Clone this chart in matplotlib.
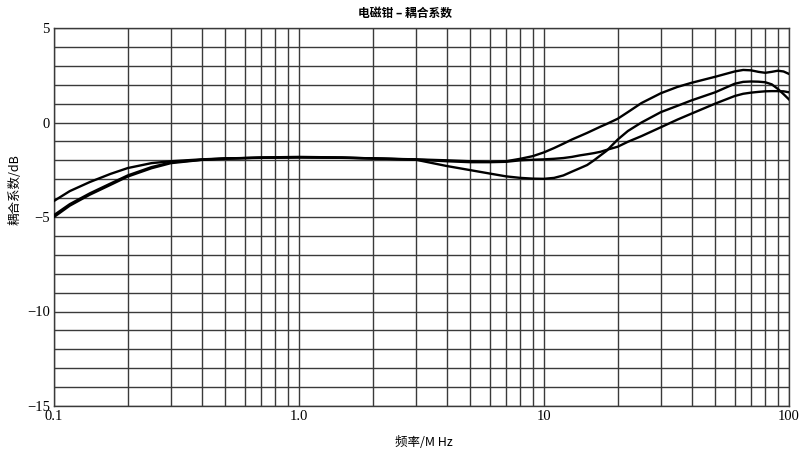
import numpy as np
import matplotlib
matplotlib.use("Agg")
import matplotlib.pyplot as plt
from matplotlib.ticker import FixedLocator, NullFormatter, FixedFormatter

# frequency points (MHz)
freq = [0.1, 0.116, 0.14, 0.17, 0.2, 0.25, 0.3, 0.4, 0.5, 0.7, 1.0, 1.5, 2, 3, 4, 5, 6, 7,
        8, 9, 10, 11, 12, 13, 14, 15, 16, 17, 18, 20, 22, 25, 30, 35, 40, 50, 60, 65, 70,
        75, 80, 85, 90, 95, 100]

# coupling coefficient (dB), three clamps
curve_a = [-4.15, -3.63, -3.15, -2.72, -2.41, -2.15, -2.05, -1.95, -1.9, -1.87, -1.85,
           -1.87, -1.9, -1.95, -2.0, -2.05, -2.08, -2.05, -1.92, -1.78, -1.58, -1.35, -1.12,
           -0.9, -0.72, -0.55, -0.38, -0.22, -0.08, 0.2, 0.55, 1.03, 1.55, 1.88, 2.1, 2.42,
           2.7, 2.78, 2.76, 2.68, 2.63, 2.68, 2.74, 2.7, 2.57]
curve_b = [-5.0, -4.4, -3.82, -3.3, -2.86, -2.42, -2.15, -1.98, -1.92, -1.85, -1.82, -1.85,
           -1.9, -1.97, -2.3, -2.52, -2.7, -2.85, -2.93, -2.97, -2.98, -2.93, -2.8, -2.6,
           -2.42, -2.25, -2.0, -1.74, -1.5, -0.9, -0.45, 0.0, 0.55, 0.88, 1.17, 1.6, 2.05,
           2.15, 2.17, 2.16, 2.13, 2.02, 1.78, 1.5, 1.22]
curve_c = [-4.9, -4.32, -3.75, -3.23, -2.8, -2.36, -2.11, -1.97, -1.9, -1.86, -1.84, -1.86,
           -1.9, -1.96, -2.05, -2.1, -2.1, -2.08, -2.0, -1.97, -1.95, -1.92, -1.88, -1.82,
           -1.74, -1.68, -1.62, -1.55, -1.45, -1.28, -1.02, -0.72, -0.25, 0.15, 0.47, 1.0,
           1.4, 1.52, 1.58, 1.62, 1.65, 1.66, 1.66, 1.65, 1.6]

x_ticks = [0.1, 1.0, 10, 100]
x_tick_labels = ["0.1", "1.0", "10", "100"]
y_ticks = [-15, -10, -5, 0, 5]
y_tick_labels = ["\u221215", "\u221210", "\u22125", "0", "5"]

cjk = ["Noto Sans CJK SC", "DejaVu Sans"]
serif = ["Liberation Serif", "DejaVu Serif"]

fig = plt.figure(figsize=(8, 4.51), dpi=100)
ax = fig.add_axes([54 / 800, 1 - 406 / 451, (789 - 54) / 800, (406 - 28) / 451])

grid_col = "#3a3a3a"
for f, d in [(freq, curve_a), (freq, curve_b), (freq, curve_c)]:
    ax.plot(f, d, color="black", lw=1.7, zorder=3)

ax.set_xscale("log")
ax.set_xlim(0.1, 100)
ax.set_ylim(-15, 5)

minor_x = [m * 10.0 ** e for e in (-1, 0, 1) for m in range(2, 10)]
ax.xaxis.set_major_locator(FixedLocator(x_ticks))
ax.xaxis.set_major_formatter(FixedFormatter(x_tick_labels))
ax.xaxis.set_minor_locator(FixedLocator(minor_x))
ax.xaxis.set_minor_formatter(NullFormatter())
ax.yaxis.set_major_locator(FixedLocator(y_ticks))
ax.yaxis.set_major_formatter(FixedFormatter(y_tick_labels))
ax.yaxis.set_minor_locator(FixedLocator(list(range(-15, 6))))

ax.grid(which="both", axis="both", color=grid_col, lw=1.0)
for s in ax.spines.values():
    s.set_color(grid_col)
    s.set_linewidth(1.0)
ax.tick_params(which="both", length=0, labelsize=10.5, pad=3)
for lab in ax.get_xticklabels() + ax.get_yticklabels():
    lab.set_family(serif)

fig.text(405 / 800, 1 - 13 / 451, "电磁钳 – 耦合系数", ha="center", va="center",
         family=cjk, fontsize=8.5, fontweight="bold")
fig.text(15 / 800, 1 - 190 / 451, "耦合系数/dB", ha="center", va="center",
         rotation=90, family=cjk, fontsize=9)
fig.text(424 / 800, 1 - 443 / 451, "频率/M Hz", ha="center", va="center",
         family=cjk, fontsize=9)

fig.savefig("out.png", dpi=100)
